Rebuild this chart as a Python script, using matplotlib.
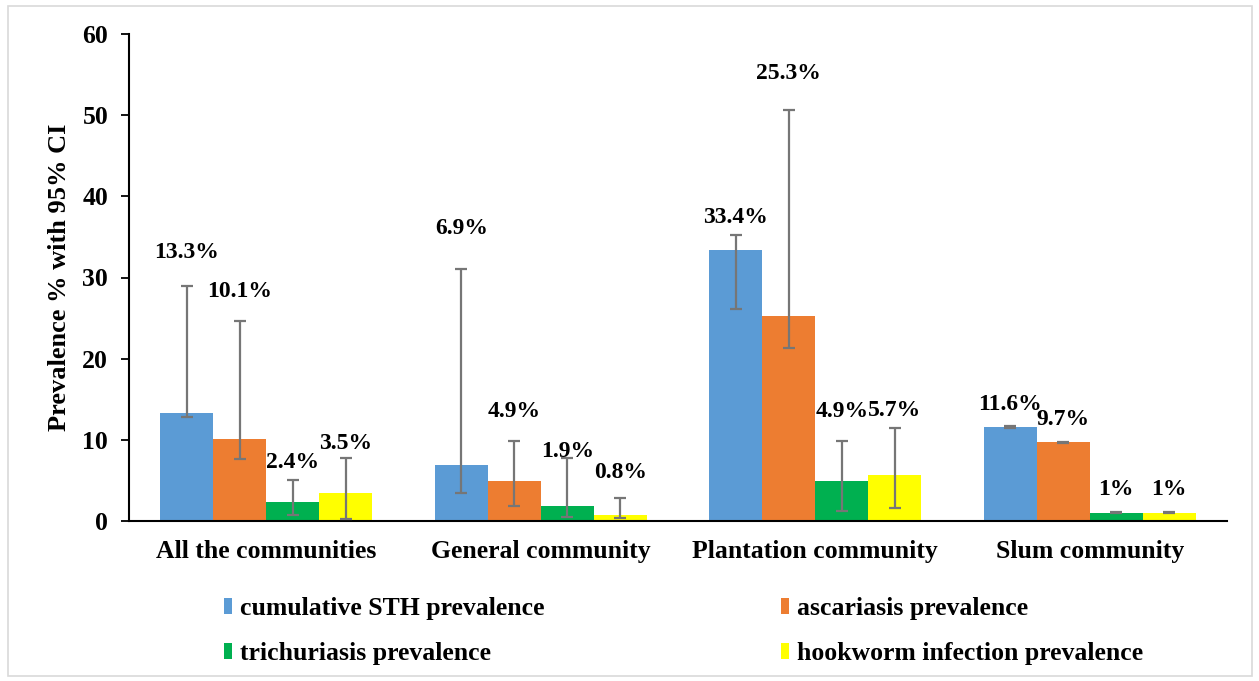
import matplotlib; matplotlib.use("Agg")
import matplotlib.pyplot as plt
import numpy as np
from matplotlib.patches import Patch, Rectangle

plt.rcParams.update({"font.family": "Liberation Serif", "font.weight": "bold"})

BLUE = "#5B9BD5"; ORANGE = "#ED7D31"; GREEN = "#00B050"; YELLOW = "#FFFF00"; ERR = "#767676"

categories = ["All the communities", "General community", "Plantation community", "Slum community"]
series_names = ["cumulative STH prevalence", "ascariasis prevalence",
                "trichuriasis prevalence", "hookworm infection prevalence"]
cumulative = [13.3, 6.9, 33.4, 11.6]
ascariasis = [10.1, 4.9, 25.3, 9.7]
trichuriasis = [2.4, 1.9, 4.9, 1.0]
hookworm = [3.5, 0.8, 5.7, 1.0]
# 95% CI bounds
cumulative_lo = [12.8, 3.5, 26.1, 11.5]; cumulative_hi = [29.0, 31.0, 35.2, 11.7]
ascariasis_lo = [7.6, 1.8, 21.3, 9.65]; ascariasis_hi = [24.7, 9.8, 50.6, 9.75]
trichuriasis_lo = [0.7, 0.5, 1.2, 0.95]; trichuriasis_hi = [5.1, 7.8, 9.8, 1.05]
hookworm_lo = [0.2, 0.4, 1.6, 0.95]; hookworm_hi = [7.8, 2.8, 11.5, 1.05]

values = [cumulative, ascariasis, trichuriasis, hookworm]
lows = [cumulative_lo, ascariasis_lo, trichuriasis_lo, hookworm_lo]
highs = [cumulative_hi, ascariasis_hi, trichuriasis_hi, hookworm_hi]
colors = [BLUE, ORANGE, GREEN, YELLOW]
# gap (pixels) between error-bar top and label baseline, per series x category
label_gap = [[28, 35, 12, 16], [24, 24, 31, 17], [12, 1, 24, 17], [9, 20, 12, 17]]

fig = plt.figure(figsize=(12.59, 6.81), dpi=100)
fig.patches.append(Rectangle((8/1259, 5/681), 1244/1259, 670/681, transform=fig.transFigure,
                             fill=False, edgecolor="#D9D9D9", lw=1.2))
ax = fig.add_axes([129/1259, 1-521/681, 1098/1259, 487/681])

x = np.arange(len(categories)); w = 0.193
for i, (v, lo, hi, c) in enumerate(zip(values, lows, highs, colors)):
    xs = x + (i-1.5)*w
    v = np.array(v); lo = np.array(lo); hi = np.array(hi)
    ax.bar(xs, v, w, color=c, zorder=2)
    ax.errorbar(xs, v, yerr=[v-lo, hi-v], fmt="none", ecolor=ERR, elinewidth=1.6,
                capsize=4.2, capthick=1.6, zorder=3)
    for j in range(len(categories)):
        ax.annotate(f"{v[j]:g}%", (xs[j], hi[j]), xytext=(0, label_gap[i][j]*0.72),
                    textcoords="offset points", ha="center", va="baseline",
                    fontsize=17, fontweight="bold")

ax.set_xlim(-0.5, 3.5); ax.set_ylim(0, 60)
ax.set_yticks(range(0, 61, 10))
ax.set_xticks(x); ax.set_xticklabels(categories, fontsize=18.5, fontweight="bold")
ax.tick_params(axis="x", length=0, pad=14)
ax.tick_params(axis="y", length=6, width=1.3, labelsize=18.5, pad=9, direction="out")
for sp in ["top", "right"]: ax.spines[sp].set_visible(False)
for sp in ["left", "bottom"]: ax.spines[sp].set_linewidth(1.5)
ax.set_ylabel("Prevalence % with 95% CI", fontsize=19, fontweight="bold", labelpad=8)

# legend fills column-wise, so order the entries to read row-wise like the original
order = [0, 2, 1, 3]
handles = [Patch(facecolor=colors[k], edgecolor="none") for k in order]
fig.legend(handles, [series_names[k] for k in order], ncol=2, mode="expand", frameon=False,
           bbox_to_anchor=(224/1259, 1-631/681, 919/1259, 0), loc="center",
           borderpad=0, borderaxespad=0, handlelength=0.32, handleheight=0.55,
           handletextpad=0.3, labelspacing=0.85, prop={"weight": "bold", "size": 18.5})

fig.savefig("out.png", dpi=100)
